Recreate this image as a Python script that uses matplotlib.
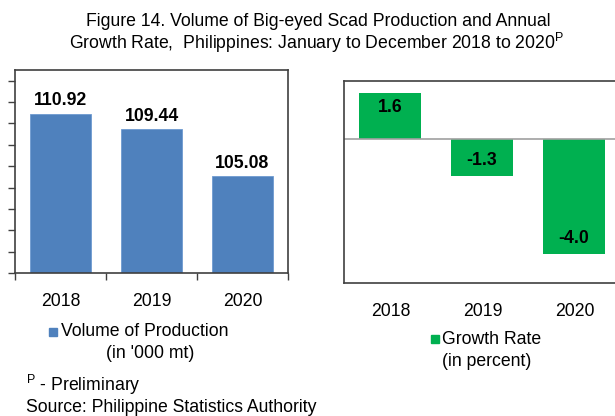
import matplotlib
matplotlib.use("Agg")
import matplotlib.pyplot as plt
from matplotlib.patches import Rectangle

plt.rcParams['font.family'] = ['Liberation Sans', 'DejaVu Sans']

# data
years = ['2018', '2019', '2020']
volume = [110.92, 109.44, 105.08]      # '000 mt
growth = [1.6, -1.3, -4.0]             # percent

blue = '#4F81BD'
green = '#00B050'
fs = 12.7

W, H = 615, 416
fig = plt.figure(figsize=(W / 100, H / 100), dpi=100)

def px_axes(x0, y0, x1, y1):
    # pixel box (top-left origin) -> figure axes
    return fig.add_axes([x0 / W, 1 - y1 / H, (x1 - x0) / W, (y1 - y0) / H])

# ---- left: volume of production
ax = px_axes(15, 70, 288, 273)
xs = range(len(years))
ax.bar(xs, volume, width=0.66, color=blue, edgecolor='#6F9BD1', linewidth=0.6, bottom=0)
ax.set_ylim(96, 115)
ax.set_xlim(-0.5, 2.5)
ax.set_yticks(range(96, 115, 2))
ax.set_yticklabels([])
ax.tick_params(axis='y', direction='out', length=5, width=1, color='#404040')
ax.set_xticks([-0.5, 0.5, 1.5, 2.5])
ax.set_xticklabels([])
ax.tick_params(axis='x', direction='out', length=5, width=1, color='#404040')
for s in ax.spines.values():
    s.set_color('#404040')
    s.set_linewidth(1.2)
for i, v in enumerate(volume):
    ax.annotate('%.2f' % v, (i, v), xytext=(0, 3), textcoords='offset points',
                ha='center', va='bottom', fontsize=fs, fontweight='bold')
for i, y in enumerate(years):
    fig.text((61 + 91 * i) / W, 1 - 302 / H, y, ha='center', va='center', fontsize=fs)

# legend (left)
fig.patches.append(Rectangle((49 / W, 1 - 336 / H), 8 / W, 8 / H, color=blue,
                             transform=fig.transFigure, figure=fig))
fig.text(61 / W, 1 - 332 / H, 'Volume of Production', ha='left', va='center', fontsize=fs)
fig.text(150 / W, 1 - 354 / H, "(in '000 mt)", ha='center', va='center', fontsize=fs)

# ---- right: growth rate (clipped at right edge like the reference)
ax2 = px_axes(344, 81, 620, 283)
ax2.bar(xs, growth, width=0.67, color=green)
ax2.set_ylim(-5, 2)
ax2.set_xlim(-0.5, 2.5)
ax2.axhline(0, color='#A0A0A0', linewidth=1.2)
ax2.set_xticks([])
ax2.set_yticks([])
for s in ax2.spines.values():
    s.set_color('#404040')
    s.set_linewidth(1.2)
for i, v in enumerate(growth):
    off = -11 if v > 0 else 11
    ax2.annotate('%.1f' % v, (i, v), xytext=(0, off), textcoords='offset points',
                 ha='center', va='center', fontsize=fs, fontweight='bold')
for i, y in enumerate(years):
    fig.text((391 + 92 * i) / W, 1 - 311 / H, y, ha='center', va='center', fontsize=fs)

# legend (right)
fig.patches.append(Rectangle((431 / W, 1 - 343 / H), 8 / W, 8 / H, color=green,
                             transform=fig.transFigure, figure=fig))
fig.text(442 / W, 1 - 339 / H, 'Growth Rate', ha='left', va='center', fontsize=fs)
fig.text(487 / W, 1 - 361 / H, '(in percent)', ha='center', va='center', fontsize=fs)

# title
fig.text(318 / W, 1 - 22 / H, 'Figure 14. Volume of Big-eyed Scad Production and Annual',
         ha='center', va='center', fontsize=fs)
fig.text(316 / W, 1 - 43 / H,
         r'Growth Rate,  Philippines: January to December 2018 to 2020$^\mathregular{P}$',
         ha='center', va='center', fontsize=fs)

# footnotes
fig.text(26 / W, 1 - 385 / H, r'$^\mathregular{P}$ - Preliminary', ha='left', va='center', fontsize=fs)
fig.text(26 / W, 1 - 407 / H, 'Source: Philippine Statistics Authority', ha='left', va='center', fontsize=fs)

fig.savefig('out.png', dpi=100)
